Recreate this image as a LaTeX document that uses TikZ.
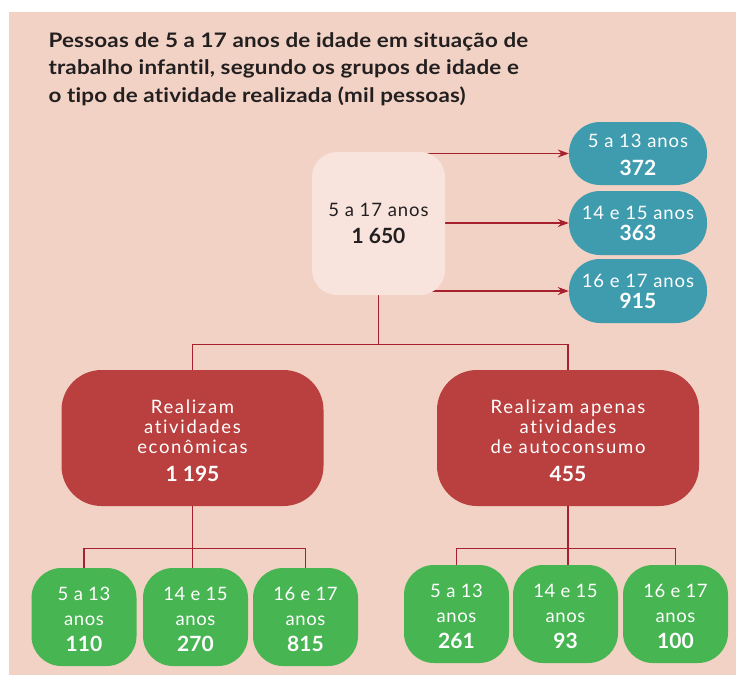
\documentclass[tikz,border=0pt]{standalone}
\usepackage{fontspec}
\setmainfont[Ligatures=NoCommon]{Lato}
\newfontfamily\titlefont[FakeStretch=1.12,LetterSpace=1,Ligatures=NoCommon]{Lato}
\newfontfamily\boxfont[LetterSpace=5,Ligatures=NoCommon]{Lato}
\newfontfamily\greenfont[LetterSpace=3,Ligatures=NoCommon]{Lato}
\newfontfamily\redfont[LetterSpace=9,Ligatures=NoCommon]{Lato}
\usetikzlibrary{arrows.meta,calc}
\definecolor{bgpink}{HTML}{F1D2C4}
\definecolor{boxpink}{HTML}{F8E4DD}
\definecolor{tealbox}{HTML}{3F9CAF}
\definecolor{redbox}{HTML}{BA4040}
\definecolor{greenbox}{HTML}{46B552}
\definecolor{linered}{HTML}{A6202E}
\definecolor{titletext}{HTML}{231F20}
\pgfdeclarelayer{background}
\pgfsetlayers{background,main}
\newcommand{\bignum}[1]{{\rmfamily\bfseries\fontsize{21}{25}\selectfont #1}}
\tikzset{
  box/.style={rectangle, inner sep=0pt, align=center, text=white},
  centerbox/.style={box, fill=boxpink, minimum width=133pt, minimum height=143pt, rounded corners=25pt, text=titletext, font=\boxfont\fontsize{18.5}{26}\selectfont},
  tealpill/.style={box, fill=tealbox, minimum width=138pt, minimum height=64pt, rounded corners=31pt, font=\boxfont\fontsize{18.5}{25}\selectfont},
  redcard/.style={box, fill=redbox, minimum width=262pt, minimum height=136pt, rounded corners=40pt, font=\redfont\fontsize{18.5}{20}\selectfont},
  greencard/.style={box, fill=greenbox, minimum width=105pt, minimum height=98pt, rounded corners=30pt, font=\greenfont\fontsize{18.5}{25}\selectfont},
  conn/.style={draw=linered, line width=1.2pt},
  arr/.style={conn, -{Stealth[length=11pt,width=8pt]}}
}
\begin{document}
\begin{tikzpicture}[x=1pt,y=-1pt]
\useasboundingbox (0,0) rectangle (736,675);

\node[anchor=north west, align=left, text=titletext, font=\titlefont\bfseries\fontsize{20}{27.5}\selectfont] (title) at (45,29)
  {Pessoas de 5 a 17 anos de idade em situação de\\
   trabalho infantil, segundo os grupos de idade e\\
   o tipo de atividade realizada (mil pessoas)};

\node[centerbox] (c) at (378.5,223.5) {5 a 17 anos\\[1pt]\bignum{1 650}};

\node[tealpill, minimum height=63pt] (t1) at (638,153.5) {\rule{0pt}{16pt}5 a 13 anos\\[3pt]\bignum{372}};
\node[tealpill] (t2) at (638,223) {14 e 15 anos\\[-4pt]\bignum{363}};
\node[tealpill] (t3) at (638,291) {16 e 17 anos\\[-4pt]\bignum{915}};

\node[redcard] (r1) at (192.5,438) {\rule{0pt}{19pt}Realizam\\atividades\\econômicas\\[8pt]\bignum{1 195}};
\node[redcard] (r2) at (568,438) {\rule{0pt}{19pt}Realizam apenas\\atividades\\de autoconsumo\\[8pt]\bignum{455}};

\node[greencard] (g1) at (84,617) {\rule{0pt}{17.5pt}5 a 13\\anos\\[1pt]\bignum{110}};
\node[greencard] (g2) at (195.5,617) {\rule{0pt}{17.5pt}14 e 15\\anos\\[1pt]\bignum{270}};
\node[greencard] (g3) at (305.5,617) {\rule{0pt}{17.5pt}16 e 17\\anos\\[1pt]\bignum{815}};
\node[greencard] (g4) at (456.5,614) {\rule{0pt}{17.5pt}5 a 13\\anos\\[1pt]\bignum{261}};
\node[greencard] (g5) at (565.5,614) {\rule{0pt}{17.5pt}14 e 15\\anos\\[1pt]\bignum{93}};
\node[greencard] (g6) at (675.5,614) {\rule{0pt}{17.5pt}16 e 17\\anos\\[1pt]\bignum{100}};

\coordinate (a1) at ($(c.north east)+(-27,0)$);
\coordinate (a3) at ($(c.south east)+(-16,0)$);

\begin{pgfonlayer}{background}
  \fill[white] (0,0) rectangle (736,675);
  \fill[bgpink] (9,12) rectangle (736,675);
  \draw[arr] (a1 |- t1.west) -- (t1.west);
  \draw[arr] (c.east |- t2.west) -- (t2.west);
  \draw[arr] (a3 |- t3.west) -- (t3.west);
  \draw[conn] (c.south) -- ++(0,50);
  \draw[conn] (r1.north) -- ++(0,-25.5) -| (r2.north);
  \draw[conn] (r1.south) -- (r1.south |- g2.north);
  \draw[conn] (g1.north) -- ++(0,-19.5) -| (g3.north);
  \draw[conn] (r2.south) -- (r2.south |- g5.north);
  \draw[conn] (g4.north) -- ++(0,-16.5) -| (g6.north);
\end{pgfonlayer}
\end{tikzpicture}
\end{document}
